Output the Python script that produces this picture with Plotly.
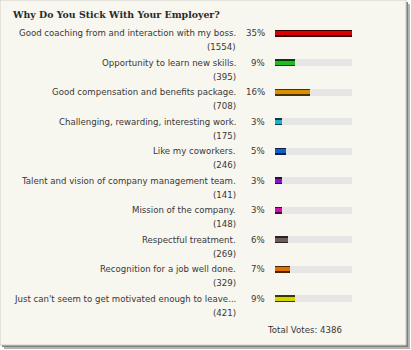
import plotly.graph_objects as go

title = "Why Do You Stick With Your Employer?"
answers = [
    "Good coaching from and interaction with my boss.",
    "Opportunity to learn new skills.",
    "Good compensation and benefits package.",
    "Challenging, rewarding, interesting work.",
    "Like my coworkers.",
    "Talent and vision of company management team.",
    "Mission of the company.",
    "Respectful treatment.",
    "Recognition for a job well done.",
    "Just can't seem to get motivated enough to leave...",
]
votes = [1554, 395, 708, 175, 246, 141, 148, 269, 329, 421]
percents = [35, 9, 16, 3, 5, 3, 3, 6, 7, 9]
main_colors = ["#d80000", "#22bb22", "#d89000", "#19b4cc", "#1060c8",
               "#8a10cc", "#d010a8", "#6e5c5c", "#e07000", "#d4d400"]
edge_colors = ["#3a0000", "#0a3a0a", "#4a3000", "#0a3a44", "#0a2044",
               "#2a0a44", "#440a38", "#2a2222", "#4a2400", "#3a3a00"]
total_votes = sum(votes)

W, H = 411, 350
CARD_W, CARD_H = 406, 345
row0_px, row_step_px = 33.0, 29.5
track_left_px, track_right_px = 275, 352

rows = list(range(len(answers)))
max_pct = max(percents)

fig = go.Figure()

# grey track behind each bar
fig.add_trace(go.Bar(
    x=[max_pct] * len(rows), y=rows, orientation="h",
    width=7 / row_step_px, marker=dict(color="#e6e6e6", line=dict(width=0)),
    hoverinfo="skip", showlegend=False))
# dark outer band of each bar
fig.add_trace(go.Bar(
    x=percents, y=rows, orientation="h",
    width=7 / row_step_px, marker=dict(color=edge_colors, line=dict(width=0)),
    hoverinfo="skip", showlegend=False))
# coloured core of each bar
fig.add_trace(go.Bar(
    x=percents, y=rows, orientation="h",
    width=4 / row_step_px, marker=dict(color=main_colors, line=dict(width=0)),
    hoverinfo="skip", showlegend=False))

text_color = "#383838"
label_font = dict(family="DejaVu Sans, Verdana, sans-serif", size=8.6, color=text_color)
annotations = []
for i, (a, v, p) in enumerate(zip(answers, votes, percents)):
    annotations.append(dict(
        x=238 / W, xref="paper", y=i, yref="y", text=a, showarrow=False,
        xanchor="right", yanchor="middle", font=label_font))
    annotations.append(dict(
        x=238 / W, xref="paper", y=i + 14 / row_step_px, yref="y", text=f"({v})",
        showarrow=False, xanchor="right", yanchor="middle", font=label_font))
    annotations.append(dict(
        x=267 / W, xref="paper", y=i, yref="y", text=f"{p}%", showarrow=False,
        xanchor="right", yanchor="middle", font=label_font))

annotations.append(dict(
    x=10 / W, xref="paper", y=1 - 15 / H, yref="paper", text=f"<b>{title}</b>",
    showarrow=False, xanchor="left", yanchor="middle",
    font=dict(family="DejaVu Serif, Georgia, serif", size=9.4, color="#2a2a2a")))
annotations.append(dict(
    x=304 / W, xref="paper", y=1 - 330 / H, yref="paper",
    text=f"Total Votes: {total_votes}", showarrow=False,
    xanchor="center", yanchor="middle", font=label_font))

shapes = [
    # drop shadow to the right and below the card
    dict(type="rect", xref="paper", yref="paper", layer="below",
         x0=4 / W, x1=(CARD_W + 4) / W, y0=1 - (CARD_H + 4) / H, y1=1 - 4 / H,
         fillcolor="#b4b4b4", line=dict(width=0)),
    dict(type="rect", xref="paper", yref="paper", layer="below",
         x0=2 / W, x1=(CARD_W + 2) / W, y0=1 - (CARD_H + 2) / H, y1=1 - 2 / H,
         fillcolor="#808080", line=dict(width=0)),
    # the card itself
    dict(type="rect", xref="paper", yref="paper", layer="below",
         x0=0, x1=CARD_W / W, y0=1 - CARD_H / H, y1=1,
         fillcolor="#f7f6ef", line=dict(color="#d0d0c8", width=1)),
]

y_top = -row0_px / row_step_px
y_bottom = (H - row0_px) / row_step_px

fig.update_layout(
    width=W, height=H,
    margin=dict(l=0, r=0, t=0, b=0),
    paper_bgcolor="#ffffff", plot_bgcolor="rgba(0,0,0,0)",
    barmode="overlay", bargap=0,
    xaxis=dict(domain=[track_left_px / W, track_right_px / W], range=[0, max_pct],
               visible=False, fixedrange=True),
    yaxis=dict(domain=[0, 1], range=[y_bottom, y_top], visible=False, fixedrange=True),
    annotations=annotations, shapes=shapes,
    showlegend=False,
)

fig.write_html("out.html", config={"displayModeBar": False})
